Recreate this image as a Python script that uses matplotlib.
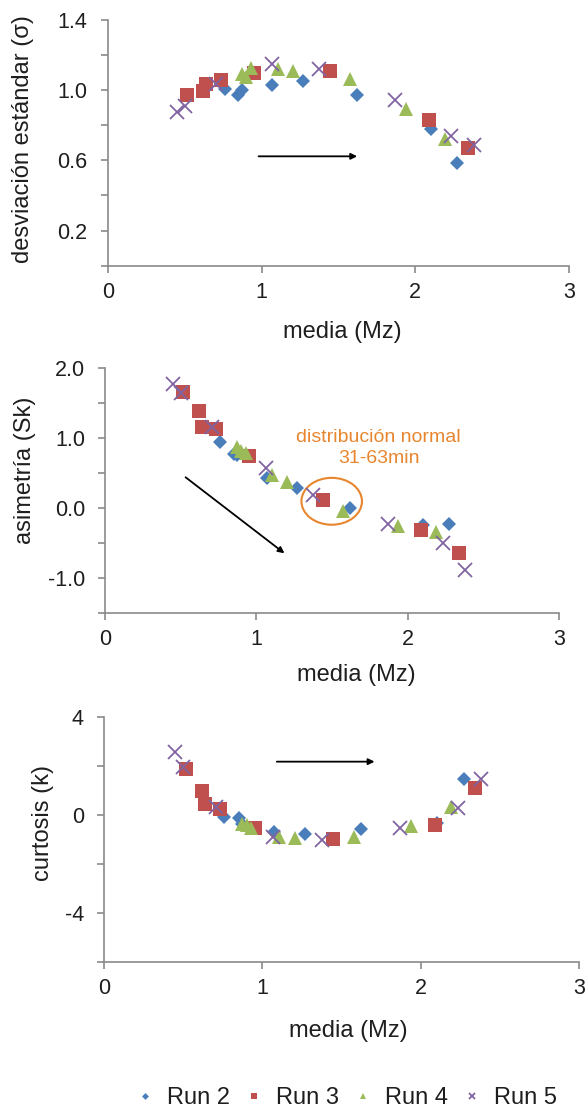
import matplotlib
matplotlib.use("Agg")
import matplotlib.pyplot as plt
from matplotlib.patches import Ellipse

plt.rcParams['font.family'] = ['Liberation Sans', 'DejaVu Sans']
plt.rcParams['axes.unicode_minus'] = False

# media (Mz) per run, shared by the three panels
mz_run2 = [0.76, 0.85, 0.87, 1.07, 1.27, 1.62, 2.10, 2.27]
mz_run3 = [0.515, 0.62, 0.64, 0.735, 0.95, 1.443, 2.087, 2.342]
mz_run4 = [0.87, 0.90, 0.93, 1.105, 1.205, 1.575, 1.937, 2.19]
mz_run5 = [0.45, 0.50, 0.705, 1.066, 1.377, 1.869, 2.233, 2.382]

# desviacion estandar (sigma)
sd_run2 = [1.008, 0.975, 1.0, 1.032, 1.051, 0.973, 0.779, 0.585]
sd_run3 = [0.970, 0.998, 1.036, 1.057, 1.099, 1.107, 0.829, 0.670]
sd_run4 = [1.095, 1.074, 1.124, 1.122, 1.107, 1.061, 0.895, 0.724]
sd_run5 = [0.874, 0.908, 1.036, 1.150, 1.118, 0.943, 0.737, 0.690]

# asimetria (Sk)
sk_run2 = [0.943, 0.776, 0.76, 0.429, 0.290, 0.005, -0.233, -0.224]
sk_run3 = [1.657, 1.386, 1.157, 1.133, 0.752, 0.119, -0.310, -0.643]
sk_run4 = [0.871, 0.814, 0.786, 0.481, 0.371, -0.033, -0.248, -0.343]
sk_run5 = [1.776, 1.643, 1.157, 0.571, 0.195, -0.224, -0.495, -0.876]

# curtosis (k)
k_run2 = [-0.068, -0.136, -0.37, -0.678, -0.773, -0.583, -0.339, 1.451]
k_run3 = [1.858, 0.990, 0.447, 0.258, -0.515, -0.990, -0.407, 1.085]
k_run4 = [-0.37, -0.42, -0.54, -0.88, -0.92, -0.88, -0.45, 0.31]
k_run5 = [2.576, 1.966, 0.339, -0.881, -1.017, -0.542, 0.271, 1.451]

run_labels = ["Run 2", "Run 3", "Run 4", "Run 5"]

axis_gray = "#8a8a8a"
text_col = "#1e1e1e"
orange = "#E8862F"
styles = [
    dict(marker="D", color="#4A7EBB", markersize=7, markeredgewidth=0),
    dict(marker="s", color="#C0504D", markersize=9.5, markeredgewidth=0),
    dict(marker="^", color="#9BBB59", markersize=10, markeredgewidth=0),
    dict(marker="x", color="#8064A2", markersize=9.5, markeredgewidth=1.3),
]

fig = plt.figure(figsize=(5.87, 11.11), dpi=100)
ax1 = fig.add_axes([0.1835, 0.7609, 0.786, 0.2211])
ax2 = fig.add_axes([0.1789, 0.448, 0.7734, 0.2205])
ax3 = fig.add_axes([0.1772, 0.1338, 0.8097, 0.2211])

mz_all = [mz_run2, mz_run3, mz_run4, mz_run5]
panels = [
    (ax1, [sd_run2, sd_run3, sd_run4, sd_run5], "desviación estándar (σ)",
     (-0.1836, 0.517), (0.509, -0.2686)),
    (ax2, [sk_run2, sk_run3, sk_run4, sk_run5], "asimetría (Sk)",
     (-0.176, 0.585), (0.553, -0.253)),
    (ax3, [k_run2, k_run3, k_run4, k_run5], "curtosis (k)",
     (-0.1277, 0.569), (0.515, -0.2785)),
]

for ax, ys, ylab, ypos, xpos in panels:
    for mz, y, st, lab in zip(mz_all, ys, styles, run_labels):
        ax.plot(mz, y, linestyle="none", label=lab, clip_on=False, **st)
    for side in ["top", "right"]:
        ax.spines[side].set_visible(False)
    for side in ["left", "bottom"]:
        ax.spines[side].set_color(axis_gray)
        ax.spines[side].set_linewidth(1.2)
    ax.tick_params(which="both", direction="out", color=axis_gray, width=1.2,
                   length=5, labelsize=15.5, labelcolor=text_col)
    ax.tick_params(axis="x", pad=6.5)
    ax.tick_params(axis="y", pad=9.5)
    ax.set_xlim(0, 3)
    ax.set_xticks([0, 1, 2, 3])
    ax.set_xlabel("media (Mz)", fontsize=17, color=text_col, va="center")
    ax.xaxis.set_label_coords(*xpos)
    ax.set_ylabel(ylab, fontsize=17, color=text_col, va="center")
    ax.yaxis.set_label_coords(*ypos)

ax1.set_ylim(0, 1.4)
ax1.set_yticks([0.2, 0.6, 1.0, 1.4])
ax1.set_yticklabels(["0.2", "0.6", "1.0", "1.4"])
ax1.set_yticks([0.0, 0.4, 0.8, 1.2], minor=True)

ax2.set_ylim(-1.5, 2.0)
ax2.set_yticks([-1.0, 0.0, 1.0, 2.0])
ax2.set_yticklabels(["-1.0", "0.0", "1.0", "2.0"])
ax2.set_yticks([-1.5, -0.5, 0.5, 1.5], minor=True)

ax3.set_ylim(-6, 4)
ax3.set_yticks([-4, 0, 4])
ax3.set_yticks([-6, -2, 2], minor=True)

arrow = dict(arrowstyle="-|>", color="black", lw=1.3, mutation_scale=9)
ax1.annotate("", xy=(1.64, 0.623), xytext=(0.963, 0.623), arrowprops=arrow)
ax2.annotate("", xy=(1.20, -0.667), xytext=(0.518, 0.467), arrowprops=arrow)
ax3.annotate("", xy=(1.725, 2.17), xytext=(1.073, 2.17), arrowprops=arrow)

ax2.add_patch(Ellipse((1.498, 0.10), 0.40, 0.67, fill=False, edgecolor=orange, lw=1.5))
ax2.text(1.809, 1.006, "distribución normal", color=orange, fontsize=14,
         ha="center", va="center")
ax2.text(1.809, 0.706, "31-63min", color=orange, fontsize=14,
         ha="center", va="center")

handles, labels = ax1.get_legend_handles_labels()
fig.legend(handles, labels, loc="center", bbox_to_anchor=(0.588, 0.0115), ncol=4,
           frameon=False, fontsize=17, markerscale=0.5, handletextpad=0.4,
           columnspacing=0.55, handlelength=1.0, labelcolor=text_col)

fig.savefig("out.png", dpi=100)
